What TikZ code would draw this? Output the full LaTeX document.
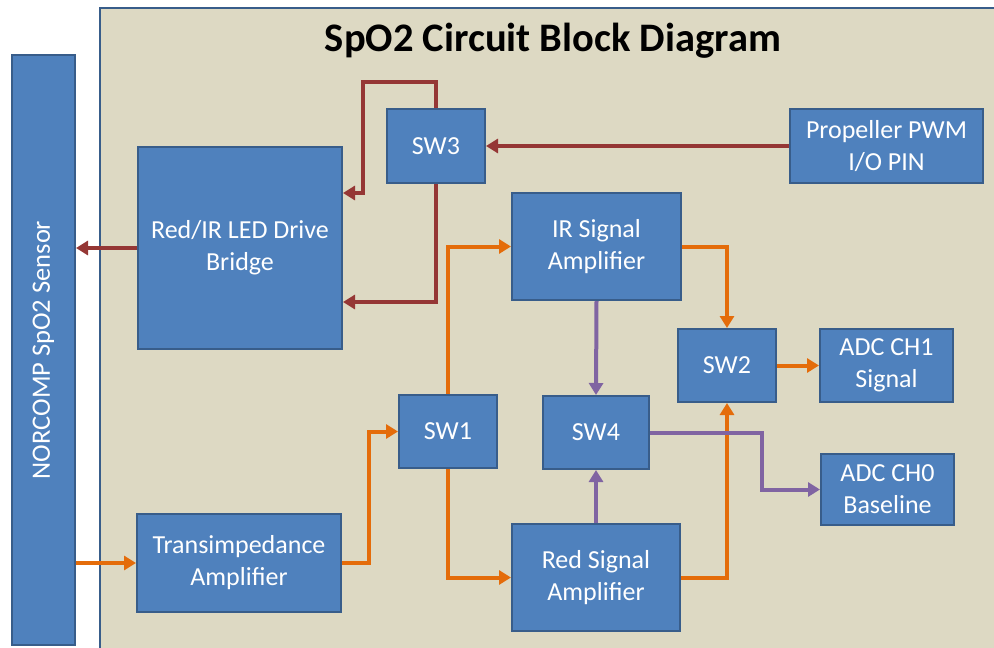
\documentclass[tikz,border=0pt]{standalone}
\usepackage{fontspec}
\setmainfont{Carlito}
\usetikzlibrary{arrows.meta}
\definecolor{panelbg}{HTML}{DDD9C3}
\definecolor{boxfill}{HTML}{4F81BD}
\definecolor{boxedge}{HTML}{385D8A}
\definecolor{redc}{HTML}{953735}
\definecolor{orangec}{HTML}{E46C0A}
\definecolor{purplec}{HTML}{8064A2}
\tikzset{
  blk/.style={draw=boxedge, fill=boxfill, line width=2pt, text=white, align=center,
    font=\fontsize{26}{32}\selectfont, inner sep=0pt},
  conn/.style={line width=4pt, -{Triangle[length=12pt,width=14pt]}},
  rconn/.style={conn, draw=redc},
  oconn/.style={conn, draw=orangec},
  pconn/.style={conn, draw=purplec},
}
\begin{document}
\begin{tikzpicture}[x=1pt,y=-1pt]
\useasboundingbox (0,0) rectangle (994,648);
\begin{scope}
\clip (0,0) rectangle (994,648);
\draw[fill=panelbg, draw=boxedge, line width=2.5pt] (100,8) rectangle (1010,670);
\end{scope}
\node[font=\bfseries\fontsize{40.5}{44}\selectfont] (title) at (553,41) {SpO2 Circuit Block Diagram};

\node[blk, minimum width=63, minimum height=590] (sensor) at (43.5,350) {};
\node[font=\fontsize{26.5}{30}\selectfont, text=white, rotate=90] (sensortxt) at (sensor.center) {NORCOMP SpO2 Sensor};

\node[blk, minimum width=204, minimum height=202] (bridge) at (240,248) {Red/IR LED Drive\\Bridge};
\node[blk, minimum width=98, minimum height=74] (sw3) at (436,146) {SW3};
\node[blk, minimum width=193, minimum height=74] (pwm) at (886.5,146) {Propeller PWM\\I/O PIN};
\node[blk, minimum width=169, minimum height=107] (iramp) at (596.5,246.5) {IR Signal\\Amplifier};
\node[blk, minimum width=98, minimum height=73] (sw2) at (727,365.5) {SW2};
\node[blk, minimum width=133, minimum height=73] (adc1) at (886.5,365.5) {ADC CH1\\Signal};
\node[blk, minimum width=106, minimum height=73] (sw4) at (596,432.5) {SW4};
\node[blk, minimum width=133, minimum height=71] (adc0) at (887.5,489.5) {ADC CH0\\Baseline};
\node[blk, minimum width=168, minimum height=107] (redamp) at (596,577.5) {Red Signal\\Amplifier};
\node[blk, minimum width=98, minimum height=73] (sw1) at (448,431.5) {SW1};
\node[blk, minimum width=204, minimum height=98] (trans) at (239,563) {Transimpedance\\Amplifier};

% red connectors
\draw[rconn] (pwm.west) -- (sw3.east);
\draw[rconn] (sw3.north) |- (363,82) -- (363,193) -- (bridge.east |- 0,193);
\draw[rconn] (sw3.south) |- (bridge.east |- 0,302);
\draw[rconn] (bridge.west) -- (sensor.east |- bridge.west);

% orange connectors
\draw[oconn] (sensor.east |- trans.west) -- (trans.west);
\draw[oconn] (trans.east) -| (369,431.5) -- (sw1.west);
\draw[oconn] (sw1.north) |- (iramp.west);
\draw[oconn] (sw1.south) |- (redamp.west);
\draw[oconn] (iramp.east) -| (sw2.north);
\draw[oconn] (redamp.east) -| (sw2.south);
\draw[oconn] (sw2.east) -- (adc1.west);

% purple connectors
\draw[pconn] (iramp.south) -- (sw4.north);
\draw[pconn] (redamp.north) -- (sw4.south);
\draw[pconn] (sw4.east) -| (762,489.5) -- (adc0.west);
\end{tikzpicture}
\end{document}
